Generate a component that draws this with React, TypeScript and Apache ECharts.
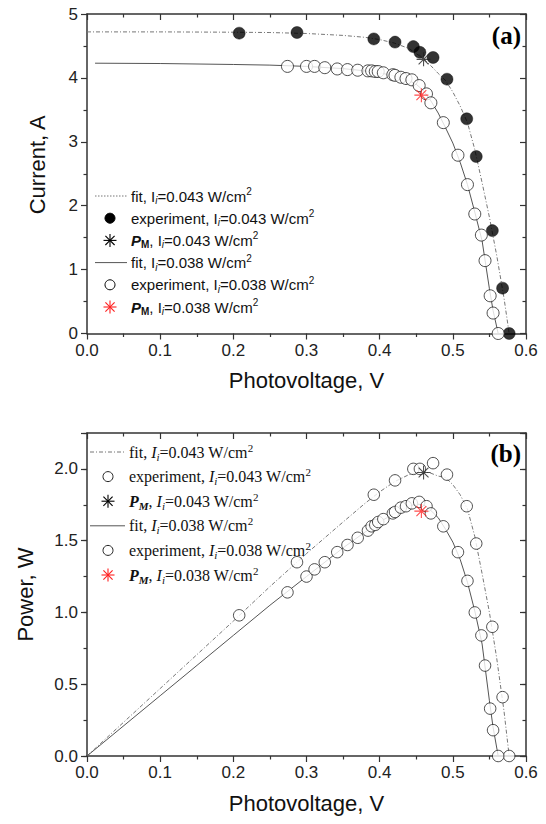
import React, { useEffect, useRef } from 'react';
import * as echarts from 'echarts';

// ---------- data ----------
const xTicks = [0, 0.1, 0.2, 0.3, 0.4, 0.5, 0.6];

// experiment, Ii = 0.043 W/cm2
const expV043 = [0.208, 0.287, 0.392, 0.421, 0.446, 0.455, 0.473, 0.492, 0.519, 0.532, 0.554, 0.568, 0.577];
const expI043 = [4.70, 4.71, 4.61, 4.56, 4.49, 4.40, 4.32, 3.98, 3.36, 2.77, 1.61, 0.71, 0.0];
const expP043 = [0.98, 1.35, 1.82, 1.92, 2.00, 2.00, 2.04, 1.96, 1.74, 1.48, 0.90, 0.41, 0.0];

// experiment, Ii = 0.038 W/cm2
const expV038 = [0.274, 0.300, 0.311, 0.325, 0.342, 0.356, 0.370, 0.384, 0.389, 0.394, 0.398, 0.405, 0.418, 0.421, 0.429, 0.436, 0.444, 0.454, 0.464, 0.470, 0.487, 0.507, 0.520, 0.530, 0.539, 0.544, 0.551, 0.555, 0.562];
const expI038 = [4.18, 4.18, 4.18, 4.16, 4.14, 4.13, 4.12, 4.11, 4.11, 4.10, 4.10, 4.08, 4.05, 4.04, 4.01, 3.99, 3.97, 3.88, 3.75, 3.61, 3.30, 2.79, 2.33, 1.87, 1.54, 1.14, 0.59, 0.32, 0.0];
const expP038 = [1.14, 1.25, 1.30, 1.35, 1.42, 1.47, 1.52, 1.57, 1.60, 1.61, 1.63, 1.65, 1.69, 1.70, 1.73, 1.74, 1.76, 1.77, 1.74, 1.69, 1.60, 1.42, 1.22, 1.00, 0.84, 0.63, 0.33, 0.18, 0.0];

// maximum power points
const pmV043 = [0.460];
const pmI043 = [4.29];
const pmP043 = [1.975];
const pmV038 = [0.457];
const pmI038 = [3.73];
const pmP038 = [1.706];

// fit curves
const fitV043 = [0, 0.1, 0.2, 0.25, 0.3, 0.35, 0.38, 0.40, 0.42, 0.44, 0.46, 0.47, 0.48, 0.49, 0.50, 0.51, 0.52, 0.53, 0.54, 0.55, 0.56, 0.57, 0.577];
const fitI043 = [4.72, 4.72, 4.715, 4.71, 4.695, 4.665, 4.635, 4.60, 4.545, 4.46, 4.30, 4.19, 4.07, 3.96, 3.78, 3.56, 3.30, 2.88, 2.36, 1.82, 1.22, 0.55, 0];
const fitP043 = [0, 0.47, 0.94, 1.18, 1.41, 1.63, 1.76, 1.84, 1.91, 1.96, 1.98, 1.97, 1.95, 1.94, 1.89, 1.82, 1.72, 1.53, 1.27, 1.00, 0.68, 0.31, 0];

const fitVI038 = [0.011, 0.1, 0.2, 0.25, 0.3, 0.35, 0.38, 0.40, 0.42, 0.44, 0.45, 0.46, 0.47, 0.48, 0.49, 0.50, 0.51, 0.52, 0.53, 0.54, 0.55, 0.555, 0.562];
const fitI038 = [4.23, 4.225, 4.21, 4.20, 4.18, 4.145, 4.11, 4.08, 4.03, 3.96, 3.90, 3.80, 3.64, 3.45, 3.22, 2.98, 2.68, 2.33, 1.90, 1.45, 0.70, 0.36, 0];
const fitVP038 = [0, 0.1, 0.2, 0.25, 0.3, 0.35, 0.38, 0.40, 0.42, 0.44, 0.45, 0.46, 0.47, 0.48, 0.49, 0.50, 0.51, 0.52, 0.53, 0.54, 0.55, 0.555, 0.562];
const fitP038 = [0, 0.42, 0.84, 1.05, 1.25, 1.45, 1.56, 1.63, 1.69, 1.74, 1.755, 1.75, 1.71, 1.66, 1.58, 1.49, 1.37, 1.21, 1.01, 0.78, 0.385, 0.20, 0];

// ---------- helpers ----------
const zip = (a: number[], b: number[]) => a.map((v, i) => [v, b[i]]);

const SANS = 'Liberation Sans, Arial, sans-serif';
const SERIF = 'Liberation Serif, Times New Roman, serif';
const AXIS = '#333';
const STAR = 'path://M0,-10L0,10M-10,0L10,0M-7.07,-7.07L7.07,7.07M-7.07,7.07L7.07,-7.07';
const DASHDOT = [4, 2, 1, 2];

function xAxisDef(gridIndex: number, top: boolean, name?: string) {
  return {
    type: 'value',
    gridIndex,
    position: top ? 'top' : 'bottom',
    min: 0,
    max: 0.6,
    interval: 0.1,
    name: name,
    nameLocation: 'middle',
    nameGap: 36,
    nameTextStyle: { fontFamily: SANS, fontSize: 22, color: '#111' },
    axisLine: { show: true, onZero: false, lineStyle: { color: AXIS, width: 1.5 } },
    axisTick: { show: true, inside: top, length: 6, lineStyle: { color: AXIS, width: 1.2 } },
    minorTick: { show: true, splitNumber: 2, length: 3.5, lineStyle: { color: AXIS, width: 1.2 } },
    axisLabel: {
      show: !top,
      margin: 8,
      fontFamily: SANS,
      fontSize: 17,
      color: '#222',
      formatter: (v: number) => (xTicks.some((t) => Math.abs(t - v) < 1e-6) ? v.toFixed(1) : ''),
    },
    splitLine: { show: false },
    minorSplitLine: { show: false },
  };
}

function yAxisDef(o: any) {
  return {
    type: 'value',
    gridIndex: o.gridIndex,
    position: o.right ? 'right' : 'left',
    min: 0,
    max: o.max,
    interval: o.interval,
    name: o.name,
    nameLocation: 'middle',
    nameGap: o.nameGap,
    nameRotate: 90,
    nameTextStyle: { fontFamily: SANS, fontSize: 22, color: '#111', padding: o.namePad || 0 },
    axisLine: { show: o.line !== false, onZero: false, lineStyle: { color: AXIS, width: 1.5 } },
    axisTick: { show: true, inside: !!o.right, length: o.tickLen, lineStyle: { color: AXIS, width: 1.2 } },
    minorTick: { show: !!o.minor, splitNumber: 2, length: 3.5, lineStyle: { color: AXIS, width: 1.2 } },
    axisLabel: {
      show: !!o.labels,
      margin: 9,
      fontFamily: SANS,
      fontSize: 17,
      color: '#222',
      formatter: o.fmt,
    },
    splitLine: { show: false },
    minorSplitLine: { show: false },
  };
}

function starGroup(cx: number, cy: number, color: string) {
  const r = 6.5;
  const d = r * 0.7071;
  const segs = [
    [0, -r, 0, r],
    [-r, 0, r, 0],
    [-d, -d, d, d],
    [-d, d, d, -d],
  ];
  return {
    type: 'group',
    x: cx,
    y: cy,
    children: segs.map((s) => ({
      type: 'line',
      shape: { x1: s[0], y1: s[1], x2: s[2], y2: s[3] },
      style: { stroke: color, lineWidth: 1.1 },
    })),
  };
}

function legendText(x: number, y: number, text: string, font: string, size: number, serifStyle: boolean) {
  const small = Math.round(size * 0.66);
  return {
    type: 'text',
    x,
    y,
    style: {
      text,
      fill: '#111',
      fontFamily: font,
      fontSize: size,
      lineHeight: size + 4,
      align: 'left',
      verticalAlign: 'middle',
      rich: {
        it: { fontFamily: font, fontSize: size, fontStyle: 'italic', fill: '#111', lineHeight: size + 4 },
        s: { fontFamily: font, fontSize: small, fontStyle: 'italic', fill: '#111', lineHeight: small, verticalAlign: 'bottom' },
        p: { fontFamily: font, fontSize: small, fill: '#111', lineHeight: small, verticalAlign: 'top' },
        pb: { fontFamily: font, fontSize: size, fontStyle: 'italic', fontWeight: 'bold', fill: '#111', lineHeight: size + 4 },
        pm: {
          fontFamily: font,
          fontSize: small,
          fontWeight: 'bold',
          fontStyle: serifStyle ? 'italic' : 'normal',
          fill: '#111',
          lineHeight: small,
          verticalAlign: 'bottom',
        },
      },
    },
  };
}

export default function App() {
  const ref = useRef<HTMLDivElement>(null);

  useEffect(() => {
    if (!ref.current) return;
    const chart = echarts.init(ref.current, undefined, { renderer: 'svg' });

    // legend (a)
    const lA = 196;
    const dA = 22.2;
    const topLegend: any[] = [
      { type: 'line', shape: { x1: 95, y1: lA, x2: 127, y2: lA }, style: { stroke: '#777', lineWidth: 1, lineDash: [1.5, 1.5] } },
      legendText(131, lA, 'fit, I{s|i}=0.043 W/cm{p|2}', SANS, 15, false),
      { type: 'circle', shape: { cx: 110, cy: lA + dA, r: 5 }, style: { fill: '#000', stroke: '#000', lineWidth: 1 } },
      legendText(131, lA + dA, 'experiment, I{s|i}=0.043 W/cm{p|2}', SANS, 15, false),
      starGroup(110, lA + 2 * dA, '#000'),
      legendText(131, lA + 2 * dA, '{pb|P}{pm|M}, I{s|i}=0.043 W/cm{p|2}', SANS, 15, false),
      { type: 'line', shape: { x1: 95, y1: lA + 3 * dA, x2: 127, y2: lA + 3 * dA }, style: { stroke: '#555', lineWidth: 1 } },
      legendText(131, lA + 3 * dA, 'fit, I{s|i}=0.038 W/cm{p|2}', SANS, 15, false),
      { type: 'circle', shape: { cx: 110, cy: lA + 4 * dA, r: 5 }, style: { fill: '#fff', stroke: '#000', lineWidth: 1 } },
      legendText(131, lA + 4 * dA, 'experiment, I{s|i}=0.038 W/cm{p|2}', SANS, 15, false),
      starGroup(110, lA + 5 * dA, '#ff2020'),
      legendText(131, lA + 5 * dA, '{pb|P}{pm|M}, I{s|i}=0.038 W/cm{p|2}', SANS, 15, false),
    ];

    // legend (b)
    const lB = 452;
    const dB = 24.6;
    const botLegend: any[] = [
      { type: 'line', shape: { x1: 90, y1: lB, x2: 125, y2: lB }, style: { stroke: '#777', lineWidth: 1, lineDash: DASHDOT } },
      legendText(129, lB, 'fit, {it|I}{s|i}=0.043 W/cm{p|2}', SERIF, 16, true),
      { type: 'circle', shape: { cx: 108, cy: lB + dB, r: 5 }, style: { fill: '#fff', stroke: '#222', lineWidth: 1 } },
      legendText(129, lB + dB, 'experiment, {it|I}{s|i}=0.043 W/cm{p|2}', SERIF, 16, true),
      starGroup(108, lB + 2 * dB, '#000'),
      legendText(129, lB + 2 * dB, '{pb|P}{pm|M}, {it|I}{s|i}=0.043 W/cm{p|2}', SERIF, 16, true),
      { type: 'line', shape: { x1: 90, y1: lB + 3 * dB, x2: 125, y2: lB + 3 * dB }, style: { stroke: '#555', lineWidth: 1 } },
      legendText(129, lB + 3 * dB, 'fit, {it|I}{s|i}=0.038 W/cm{p|2}', SERIF, 16, true),
      { type: 'circle', shape: { cx: 108, cy: lB + 4 * dB, r: 5 }, style: { fill: '#fff', stroke: '#222', lineWidth: 1 } },
      legendText(129, lB + 4 * dB, 'experiment, {it|I}{s|i}=0.038 W/cm{p|2}', SERIF, 16, true),
      starGroup(108, lB + 5 * dB, '#ff2020'),
      legendText(129, lB + 5 * dB, '{pb|P}{pm|M}, {it|I}{s|i}=0.038 W/cm{p|2}', SERIF, 16, true),
    ];

    const panelLabels: any[] = [
      { type: 'text', x: 521, y: 35, style: { text: '(a)', fill: '#000', fontFamily: SERIF, fontSize: 25, fontWeight: 'bold', align: 'right', verticalAlign: 'middle' } },
      { type: 'text', x: 521, y: 453, style: { text: '(b)', fill: '#000', fontFamily: SERIF, fontSize: 25, fontWeight: 'bold', align: 'right', verticalAlign: 'middle' } },
    ];

    const openCircle = { color: '#fff', borderColor: '#222', borderWidth: 1 };

    const option: any = {
      animation: false,
      backgroundColor: '#fff',
      grid: [
        { left: 87, top: 14, width: 439, height: 319.5, containLabel: false },
        { left: 87, top: 433, width: 439, height: 323, containLabel: false },
      ],
      xAxis: [
        xAxisDef(0, false, 'Photovoltage, V'),
        xAxisDef(0, true),
        xAxisDef(1, false, 'Photovoltage, V'),
        xAxisDef(1, true),
      ],
      yAxis: [
        yAxisDef({ gridIndex: 0, max: 5, interval: 1, name: 'Current, A', nameGap: 39, namePad: [0, 0, 0, 18], tickLen: 6, minor: true, labels: true, fmt: (v: number) => String(Math.round(v)) }),
        yAxisDef({ gridIndex: 0, right: true, max: 5, interval: 1, tickLen: 6, minor: true }),
        yAxisDef({
          gridIndex: 1, max: 2.25, interval: 0.5, name: 'Power, W', nameGap: 51, tickLen: 6, labels: true,
          fmt: (v: number) => (Math.abs(v * 2 - Math.round(v * 2)) < 1e-6 ? v.toFixed(1) : ''),
        }),
        yAxisDef({ gridIndex: 1, max: 2.25, interval: 0.25, tickLen: 3.5, line: false }),
        yAxisDef({ gridIndex: 1, right: true, max: 2.25, interval: 0.5, tickLen: 6 }),
        yAxisDef({ gridIndex: 1, right: true, max: 2.25, interval: 0.25, tickLen: 3.5, line: false }),
      ],
      series: [
        // (a) current
        {
          name: 'fit, Ii=0.043 W/cm2 (a)', type: 'line', xAxisIndex: 0, yAxisIndex: 0, z: 2,
          data: zip(fitV043, fitI043), showSymbol: false, symbol: 'none',
          lineStyle: { color: '#777', width: 1, type: DASHDOT },
        },
        {
          name: 'fit, Ii=0.038 W/cm2 (a)', type: 'line', xAxisIndex: 0, yAxisIndex: 0, z: 2,
          data: zip(fitVI038, fitI038), showSymbol: false, symbol: 'none',
          lineStyle: { color: '#555', width: 1 },
        },
        {
          name: 'experiment, Ii=0.043 W/cm2 (a)', type: 'scatter', xAxisIndex: 0, yAxisIndex: 0, z: 3,
          data: zip(expV043, expI043), symbol: 'circle', symbolSize: 12,
          itemStyle: { color: '#000', borderColor: '#000', borderWidth: 0.5 },
        },
        {
          name: 'experiment, Ii=0.038 W/cm2 (a)', type: 'scatter', xAxisIndex: 0, yAxisIndex: 0, z: 3,
          data: zip(expV038, expI038), symbol: 'circle', symbolSize: 12, itemStyle: openCircle,
        },
        {
          name: 'PM, Ii=0.043 W/cm2 (a)', type: 'scatter', xAxisIndex: 0, yAxisIndex: 0, z: 4,
          data: zip(pmV043, pmI043), symbol: STAR, symbolSize: 14,
          itemStyle: { color: 'rgba(0,0,0,0)', borderColor: '#222', borderWidth: 1.1 },
        },
        {
          name: 'PM, Ii=0.038 W/cm2 (a)', type: 'scatter', xAxisIndex: 0, yAxisIndex: 0, z: 4,
          data: zip(pmV038, pmI038), symbol: STAR, symbolSize: 14,
          itemStyle: { color: 'rgba(0,0,0,0)', borderColor: '#ff2020', borderWidth: 1.1 },
        },
        // (b) power
        {
          name: 'fit, Ii=0.043 W/cm2 (b)', type: 'line', xAxisIndex: 2, yAxisIndex: 2, z: 2,
          data: zip(fitV043, fitP043), showSymbol: false, symbol: 'none',
          lineStyle: { color: '#777', width: 1, type: DASHDOT },
        },
        {
          name: 'fit, Ii=0.038 W/cm2 (b)', type: 'line', xAxisIndex: 2, yAxisIndex: 2, z: 2,
          data: zip(fitVP038, fitP038), showSymbol: false, symbol: 'none',
          lineStyle: { color: '#555', width: 1 },
        },
        {
          name: 'experiment, Ii=0.043 W/cm2 (b)', type: 'scatter', xAxisIndex: 2, yAxisIndex: 2, z: 3,
          data: zip(expV043, expP043), symbol: 'circle', symbolSize: 11.5, itemStyle: openCircle,
        },
        {
          name: 'experiment, Ii=0.038 W/cm2 (b)', type: 'scatter', xAxisIndex: 2, yAxisIndex: 2, z: 3,
          data: zip(expV038, expP038), symbol: 'circle', symbolSize: 11.5, itemStyle: openCircle,
        },
        {
          name: 'PM, Ii=0.043 W/cm2 (b)', type: 'scatter', xAxisIndex: 2, yAxisIndex: 2, z: 4,
          data: zip(pmV043, pmP043), symbol: STAR, symbolSize: 14,
          itemStyle: { color: 'rgba(0,0,0,0)', borderColor: '#222', borderWidth: 1.1 },
        },
        {
          name: 'PM, Ii=0.038 W/cm2 (b)', type: 'scatter', xAxisIndex: 2, yAxisIndex: 2, z: 4,
          data: zip(pmV038, pmP038), symbol: STAR, symbolSize: 14,
          itemStyle: { color: 'rgba(0,0,0,0)', borderColor: '#ff2020', borderWidth: 1.1 },
        },
      ],
      graphic: [...topLegend, ...botLegend, ...panelLabels],
    };

    chart.setOption(option);
    return () => chart.dispose();
  }, []);

  return (
    <div
      ref={ref}
      style={{ position: 'absolute', left: 0, top: 0, width: 546, height: 824, background: '#fff' }}
    />
  );
}
